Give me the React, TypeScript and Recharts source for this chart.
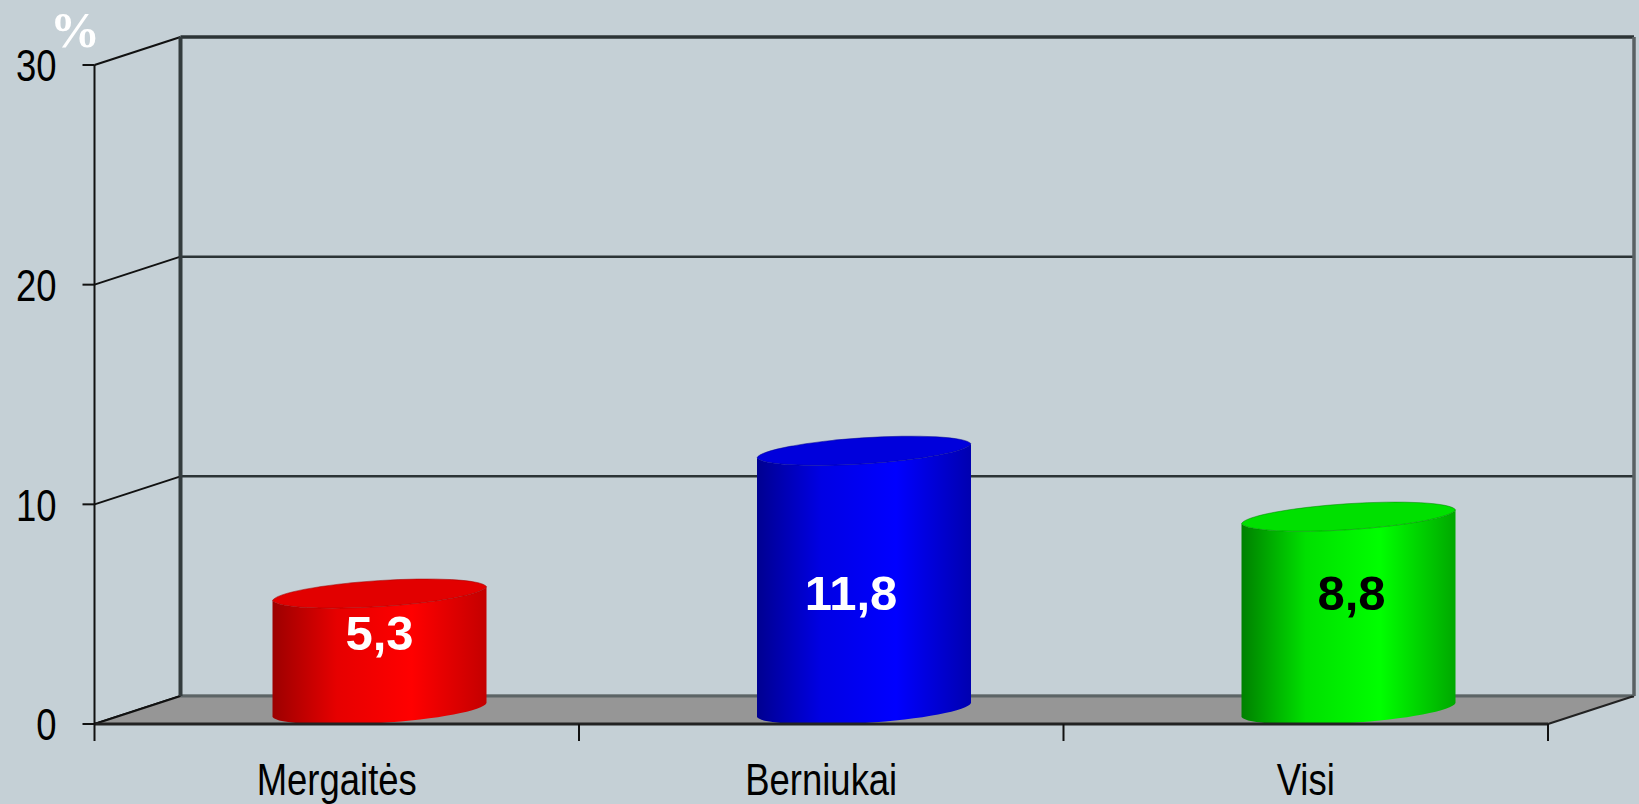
import React from "react";
import {
  Bar,
  BarChart,
  CartesianGrid,
  LabelList,
  XAxis,
  YAxis,
} from "recharts";

const categories = ["Mergaitės", "Berniukai", "Visi"];
const values = [5.3, 11.8, 8.8];
const yTicks = [0, 10, 20, 30];
const edgeTicks = [0, 1, 2, 3];

const barGradients = [
  ["#9c0000", "#e60000", "#ff0000", "#c40000"],
  ["#000090", "#0000e4", "#0000ff", "#0000b0"],
  ["#008000", "#00e000", "#00ff00", "#00a800"],
];
const topColors = ["#e20000", "#0000dc", "#00e000"];
const labelColors = ["#ffffff", "#ffffff", "#000000"];
// where the original put each value label, relative to its bar
const labelDx = [0, -13, 3];
const labelDy = [25, 128, 62];

const data = categories.map((name, i) => ({ name, slot: i, value: values[i] }));

const BG = "#c5d0d6";
const FLOOR = "#969696";
const DEPTH_X = 86;
const DEPTH_Y = 28;
const SANS = "'Liberation Sans', Arial, sans-serif";

function BackGridLine(props: any) {
  const { x1, x2, y1 } = props;
  return (
    <g>
      <line x1={x1} y1={y1} x2={x1 + DEPTH_X} y2={y1 - DEPTH_Y} stroke="#111" strokeWidth={2} />
      <line x1={x1 + DEPTH_X} y1={y1 - DEPTH_Y} x2={x2 + DEPTH_X} y2={y1 - DEPTH_Y} stroke="#2c3436" strokeWidth={y1 < 100 ? 3.5 : 2.5} />
    </g>
  );
}

// floor and the walls of the box, from the plot box the grid hands over
function Walls(props: any) {
  const { index, y1, y2, x, width } = props;
  if (index !== 0) return <g />;
  const bx = x + DEPTH_X;
  const by = y2 - DEPTH_Y;
  return (
    <g>
      <polygon
        points={`${x},${y2} ${bx},${by} ${bx + width},${by} ${x + width},${y2}`}
        fill={FLOOR}
      />
      <line x1={bx} y1={by} x2={bx + width} y2={by} stroke="#5c6466" strokeWidth={3} />
      <line x1={x} y1={y2} x2={bx} y2={by} stroke="#111" strokeWidth={2} />
      <line x1={x + width} y1={y2} x2={bx + width} y2={by} stroke="#222" strokeWidth={2} />
      <line x1={bx} y1={y1 - DEPTH_Y} x2={bx} y2={by} stroke="#333b3d" strokeWidth={4} />
      <line x1={bx + width} y1={y1 - DEPTH_Y} x2={bx + width} y2={by} stroke="#596163" strokeWidth={3.5} />
    </g>
  );
}

function Cylinder(props: any) {
  const { x, y, width, height, index } = props;
  const left = x + DEPTH_X / 2;
  const right = left + width;
  const top = y - DEPTH_Y / 2;
  const bottom = top + height;
  const tilt = 7;
  const rx = width / 2 + 0.5;
  const ry = 14;
  const rot = -3.7;
  const body =
    `M${left},${top + tilt} L${left},${bottom + tilt} ` +
    `A${rx},${ry} ${rot} 0 0 ${right},${bottom - tilt} ` +
    `L${right},${top - tilt} A${rx},${ry} ${rot} 0 1 ${left},${top + tilt} Z`;
  const lid =
    `M${left},${top + tilt} A${rx},${ry} ${rot} 0 1 ${right},${top - tilt} ` +
    `A${rx},${ry} ${rot} 0 1 ${left},${top + tilt} Z`;
  return (
    <g>
      <path d={body} fill={`url(#cyl${index})`} />
      <path d={lid} fill={topColors[index]} stroke={barGradients[index][0]} strokeWidth={1} strokeOpacity={0.5} />
    </g>
  );
}

function ValueLabel(props: any) {
  const { x, y, width, index, value } = props;
  return (
    <text
      x={x + width / 2 + DEPTH_X / 2 + labelDx[index]}
      y={y + labelDy[index]}
      textAnchor="middle"
      dominantBaseline="central"
      fill={labelColors[index]}
      fontFamily={SANS}
      fontWeight="bold"
      fontSize={49}
    >
      {String(value).replace(".", ",")}
    </text>
  );
}

// no narrow font is installed, so the tick text is squeezed sideways
function NarrowTick(props: any) {
  const { x, y, payload, textAnchor, verticalAnchor } = props;
  return (
    <g transform={`translate(${x},${y}) scale(0.81,1)`}>
      <text
        textAnchor={textAnchor}
        dy={verticalAnchor === "start" ? "0.9em" : "0.36em"}
        fontFamily={SANS}
        fontSize={45}
        fill="#000"
      >
        {payload.value}
      </text>
    </g>
  );
}

// the edge axis only shows its tick marks
function NoLabel() {
  return <g />;
}

export default function App() {
  return (
    <div style={{ position: "absolute", left: 0, top: 0, width: 1639, height: 804, background: BG, overflow: "hidden" }}>
      <BarChart
        width={1639}
        height={804}
        data={data}
        margin={{ top: 65, right: 91, bottom: 0, left: 0 }}
        barCategoryGap={0}
      >
        <defs>
          {barGradients.map((stops, i) => (
            <linearGradient key={i} id={`cyl${i}`} x1="0" y1="0" x2="1" y2="0">
              <stop offset="0%" stopColor={stops[0]} />
              <stop offset="30%" stopColor={stops[1]} />
              <stop offset="65%" stopColor={stops[2]} />
              <stop offset="100%" stopColor={stops[3]} />
            </linearGradient>
          ))}
        </defs>
        <CartesianGrid xAxisId={1} horizontal={BackGridLine} vertical={Walls} />
        <XAxis
          xAxisId={0}
          dataKey="slot"
          type="number"
          domain={[0, 3]}
          allowDataOverflow
          ticks={edgeTicks}
          interval={0}
          height={1}
          axisLine={{ stroke: "#222", strokeWidth: 3 }}
          tick={NoLabel}
          tickSize={17}
          tickLine={{ stroke: "#111", strokeWidth: 2 }}
        />
        <XAxis
          xAxisId={1}
          dataKey="name"
          height={79}
          tickLine={false}
          tickMargin={23}
          axisLine={false}
          tick={NarrowTick}
          interval={0}
        />
        <YAxis
          width={94.5}
          domain={[0, 30]}
          ticks={yTicks}
          tickSize={12}
          tickMargin={26}
          axisLine={{ stroke: "#111", strokeWidth: 2 }}
          tickLine={{ stroke: "#111", strokeWidth: 2 }}
          tick={NarrowTick}
        />
        <Bar xAxisId={1} dataKey="value" barSize={214} shape={Cylinder} isAnimationActive={false}>
          <LabelList dataKey="value" content={ValueLabel} />
        </Bar>
        <text x={75} y={47} textAnchor="middle" fill="#fff" fontFamily="'Liberation Serif', serif" fontWeight="bold" fontSize={50}>
          %
        </text>
      </BarChart>
    </div>
  );
}
